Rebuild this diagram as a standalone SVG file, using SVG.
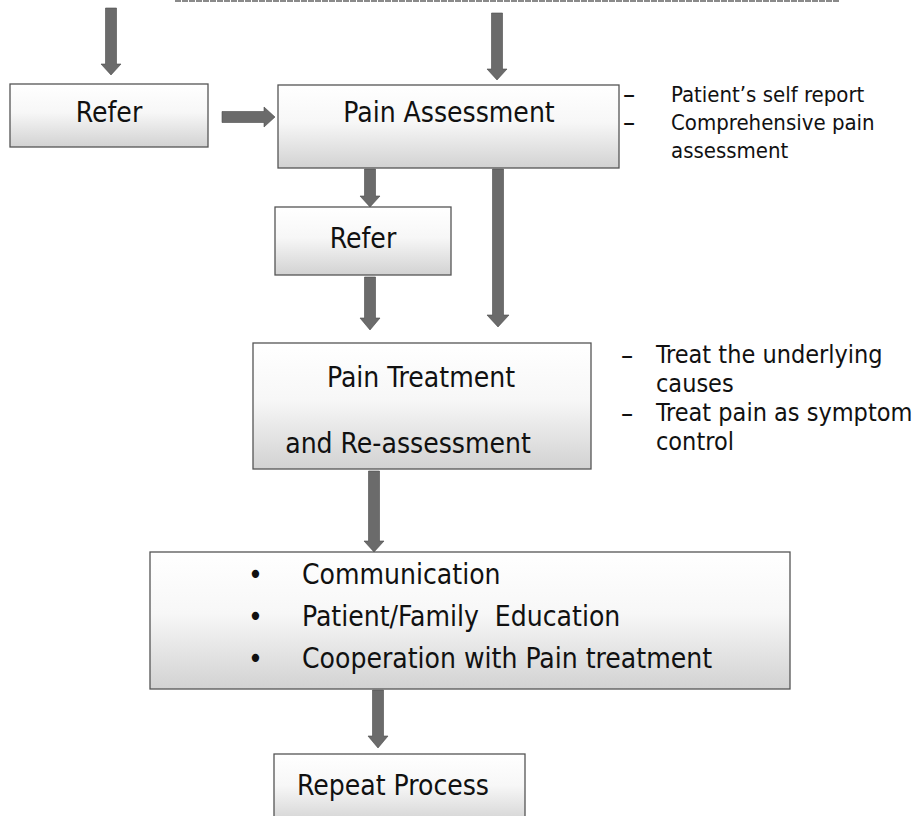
<svg xmlns="http://www.w3.org/2000/svg" width="924" height="816" viewBox="0 0 924 816">
<defs>
<linearGradient id="boxfill" x1="0" y1="0" x2="0" y2="1">
<stop offset="0" stop-color="#ffffff"/>
<stop offset="0.45" stop-color="#f7f7f7"/>
<stop offset="1" stop-color="#d2d2d2"/>
</linearGradient>
</defs>
<style>
.box{fill:url(#boxfill);stroke:#555;stroke-width:1.3}
.t{font-family:"DejaVu Sans Condensed","DejaVu Sans",sans-serif;fill:#111;font-size:28px}
.c{text-anchor:middle}
.s{font-family:"DejaVu Sans Condensed","DejaVu Sans",sans-serif;fill:#111;font-size:22px}
.s2{font-family:"DejaVu Sans Condensed","DejaVu Sans",sans-serif;fill:#111;font-size:25px}
.d{font-family:"DejaVu Sans Condensed","DejaVu Sans",sans-serif;fill:#111;font-size:27px}
.arr{fill:#6b6b6b;stroke:#4a4a4a;stroke-width:0.6}
.pre{white-space:pre}
</style>
<rect width="924" height="816" fill="#ffffff"/>
<line x1="175" y1="1" x2="840" y2="1" stroke="#8a8a8a" stroke-width="2" stroke-dasharray="6 1"/>

<g id="connectors">
<polygon class="arr" points="105.5,8 116.5,8 116.5,64 121,64 111,75 101,64 105.5,64"/>
<polygon class="arr" points="222,111.5 264,111.5 264,107 275,117 264,127 264,122.5 222,122.5"/>
<polygon class="arr" points="491.5,13 502.5,13 502.5,69 507,69 497,80 487,69 491.5,69"/>
<polygon class="arr" points="364.5,169 375.5,169 375.5,196 380,196 370,207 360,196 364.5,196"/>
<polygon class="arr" points="492.5,169 503.5,169 503.5,315 509,315 498,327 487,315 492.5,315"/>
<polygon class="arr" points="364.5,277 375.5,277 375.5,318 380,318 370,330 360,318 364.5,318"/>
<polygon class="arr" points="368.5,471 379.5,471 379.5,541 384,541 374,552 364,541 368.5,541"/>
<polygon class="arr" points="372.5,690 383.5,690 383.5,736 388,736 378,748 368,736 372.5,736"/>
</g>

<g id="refer-left">
<rect class="box" x="10" y="84" width="198" height="63"/>
<text class="t c" x="109" y="122">Refer</text>
</g>

<g id="pain-assessment">
<rect class="box" x="278" y="85" width="341" height="83"/>
<text class="t c" x="449" y="122">Pain Assessment</text>
</g>

<g id="assessment-notes">
<text class="d" x="623" y="103">–</text>
<text class="d" x="623" y="131">–</text>
<text class="s" x="671" y="102">Patient’s self report</text>
<text class="s" x="671" y="130">Comprehensive pain</text>
<text class="s" x="671" y="158">assessment</text>
</g>

<g id="refer-middle">
<rect class="box" x="275" y="207" width="176" height="68"/>
<text class="t c" x="363" y="248">Refer</text>
</g>

<g id="pain-treatment">
<rect class="box" x="253" y="343" width="338" height="126"/>
<text class="t c" x="421" y="387">Pain Treatment</text>
<text class="t c" x="408" y="453">and Re-assessment</text>
</g>

<g id="treatment-notes">
<text class="d" x="621" y="364">–</text>
<text class="d" x="621" y="422">–</text>
<text class="s2" x="656" y="363">Treat the underlying</text>
<text class="s2" x="656" y="392">causes</text>
<text class="s2" x="656" y="421">Treat pain as symptom</text>
<text class="s2" x="656" y="450">control</text>
</g>

<g id="support">
<rect class="box" x="150" y="552" width="640" height="137"/>
<text class="t" x="248" y="584">•</text>
<text class="t" x="248" y="626">•</text>
<text class="t" x="248" y="668">•</text>
<text class="t" x="302" y="584">Communication</text>
<text class="t pre" x="302" y="626">Patient/Family  Education</text>
<text class="t" x="302" y="668">Cooperation with Pain treatment</text>
</g>

<g id="repeat-process">
<rect class="box" x="274" y="754" width="251" height="70"/>
<text class="t" x="297" y="795">Repeat Process</text>
</g>
</svg>
